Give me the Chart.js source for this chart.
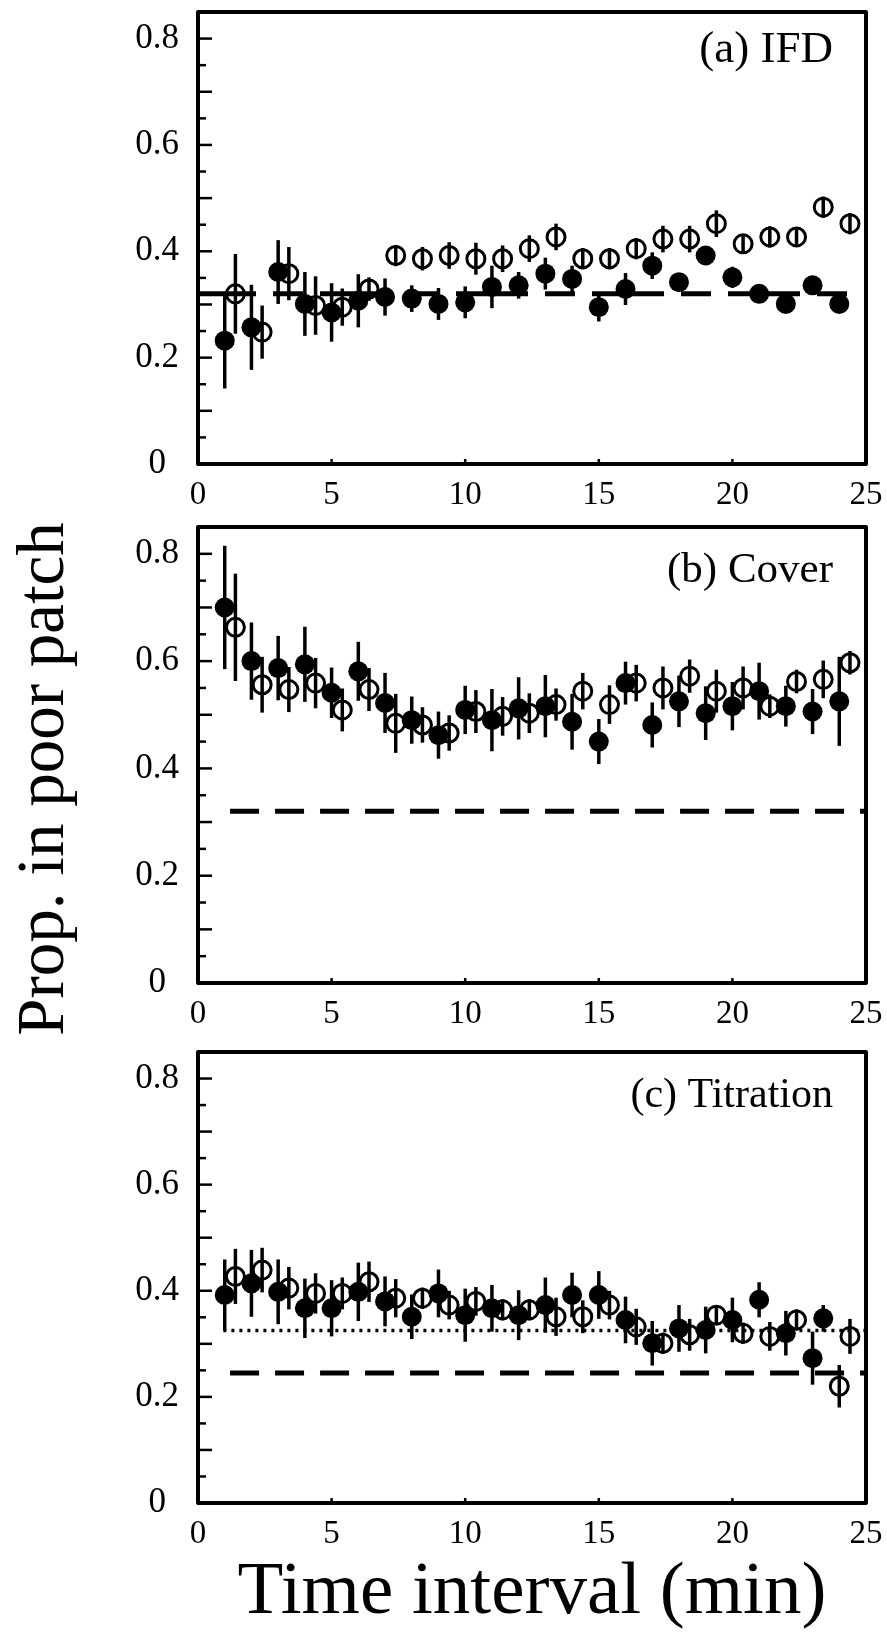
<!DOCTYPE html>
<html>
<head>
<meta charset="utf-8">
<script src="https://cdn.jsdelivr.net/npm/chart.js@4.4.1/dist/chart.umd.min.js"></script>
<style>
  html, body { margin: 0; padding: 0; background: #fff; }
  body { width: 887px; height: 1632px; position: relative; overflow: hidden; }
  canvas { position: absolute; left: 0; }
</style>
</head>
<body>
<canvas id="panelA" width="887" height="505" style="top:0px"></canvas>
<canvas id="panelB" width="887" height="555" style="top:505px"></canvas>
<canvas id="panelC" width="887" height="592" style="top:1040px"></canvas>
<script>
const SERIF = "'Liberation Serif', 'Times New Roman', serif";

// time of each point (min); open symbols sit a little to the right
const filledTimes = [1, 2, 3, 4, 5, 6, 7, 8, 9, 10, 11, 12, 13, 14, 15, 16, 17, 18, 19, 20, 21, 22, 23, 24];
const openTimes = [1.4, 2.4, 3.4, 4.4, 5.4, 6.4, 7.4, 8.4, 9.4, 10.4, 11.4, 12.4, 13.4, 14.4, 15.4, 16.4, 17.4, 18.4, 19.4, 20.4, 21.4, 22.4, 23.4, 24.4];

// (a) IFD
const ifdFilled = [0.232, 0.257, 0.361, 0.301, 0.285, 0.307, 0.314, 0.311, 0.301, 0.304, 0.333, 0.336, 0.358, 0.348, 0.295, 0.329, 0.373, 0.342, 0.392, 0.351, 0.320, 0.301, 0.336, 0.301];
const ifdFilledErr = [0.090, 0.080, 0.060, 0.060, 0.055, 0.050, 0.035, 0.025, 0.030, 0.030, 0.040, 0.025, 0.030, 0.025, 0.027, 0.030, 0.025, 0.015, 0.015, 0.020, 0.015, 0.015, 0.015, 0.015];
const ifdOpen = [0.320, 0.248, 0.358, 0.298, 0.295, 0.329, 0.392, 0.386, 0.392, 0.386, 0.386, 0.405, 0.427, 0.386, 0.386, 0.405, 0.423, 0.423, 0.452, 0.414, 0.427, 0.427, 0.483, 0.452];
const ifdOpenErr = [0.075, 0.050, 0.050, 0.055, 0.035, 0.022, 0.020, 0.022, 0.025, 0.030, 0.025, 0.025, 0.025, 0.020, 0.020, 0.020, 0.025, 0.025, 0.025, 0.015, 0.020, 0.015, 0.020, 0.020];
const ifdExpected = 0.32;

// (b) Cover
const coverFilled = [0.700, 0.600, 0.587, 0.594, 0.541, 0.581, 0.522, 0.490, 0.462, 0.509, 0.490, 0.512, 0.516, 0.487, 0.450, 0.559, 0.481, 0.525, 0.503, 0.516, 0.544, 0.516, 0.506, 0.525];
const coverFilledErr = [0.115, 0.072, 0.060, 0.070, 0.047, 0.055, 0.056, 0.044, 0.044, 0.045, 0.058, 0.058, 0.058, 0.052, 0.042, 0.040, 0.042, 0.048, 0.050, 0.045, 0.053, 0.038, 0.042, 0.083];
const coverOpen = [0.663, 0.556, 0.547, 0.559, 0.509, 0.547, 0.484, 0.481, 0.466, 0.506, 0.497, 0.503, 0.519, 0.544, 0.519, 0.559, 0.550, 0.572, 0.544, 0.550, 0.516, 0.562, 0.566, 0.597];
const coverOpenErr = [0.100, 0.052, 0.042, 0.047, 0.040, 0.040, 0.055, 0.033, 0.033, 0.040, 0.036, 0.037, 0.030, 0.034, 0.036, 0.034, 0.040, 0.031, 0.040, 0.040, 0.022, 0.022, 0.035, 0.022];
const coverExpected = 0.32;

// (c) Titration
const titFilledTimes = [1, 2, 3, 4, 5, 6, 7, 8, 9, 10, 11, 12, 13, 14, 15, 16, 17, 18, 19, 20, 21, 22, 23, 23.4];
const titFilled = [0.392, 0.414, 0.398, 0.367, 0.367, 0.398, 0.380, 0.351, 0.395, 0.354, 0.367, 0.354, 0.373, 0.392, 0.392, 0.345, 0.301, 0.329, 0.326, 0.345, 0.383, 0.320, 0.273, 0.348];
const titFilledErr = [0.067, 0.063, 0.061, 0.056, 0.053, 0.055, 0.047, 0.042, 0.045, 0.050, 0.044, 0.047, 0.052, 0.042, 0.045, 0.044, 0.042, 0.044, 0.044, 0.042, 0.033, 0.042, 0.050, 0.025];
const titOpenTimes = [1.4, 2.4, 3.4, 4.4, 5.4, 6.4, 7.4, 8.4, 9.4, 10.4, 11.4, 12.4, 13.4, 14.4, 15.4, 16.4, 17.4, 18.4, 19.4, 20.4, 21.4, 22.4, 24, 24.4];
const titOpen = [0.427, 0.439, 0.405, 0.395, 0.395, 0.417, 0.386, 0.386, 0.373, 0.380, 0.364, 0.364, 0.351, 0.351, 0.373, 0.332, 0.301, 0.317, 0.354, 0.320, 0.314, 0.345, 0.220, 0.314];
const titOpenErr = [0.052, 0.042, 0.040, 0.038, 0.030, 0.038, 0.036, 0.020, 0.027, 0.027, 0.020, 0.020, 0.036, 0.031, 0.027, 0.034, 0.020, 0.030, 0.017, 0.020, 0.027, 0.020, 0.040, 0.033];
const titExpected = 0.245;
const titDotted = 0.325;

const xMax = 25;
const yMax = 0.85;
const yLabelValues = [0, 0.2, 0.4, 0.6, 0.8];

function pts(xs, ys) {
  return xs.map((x, i) => ({ x: x, y: ys[i] }));
}

// vertical error bars, drawn with the chart's own scales
const errorBars = {
  id: 'errorBars',
  beforeDatasetsDraw(chart) {
    const { ctx, chartArea: a, scales: { x, y } } = chart;
    ctx.save();
    ctx.beginPath();
    ctx.rect(a.left, a.top, a.right - a.left, a.bottom - a.top);
    ctx.clip();
    ctx.strokeStyle = '#000';
    ctx.lineWidth = 3.5;
    chart.data.datasets.forEach(ds => {
      if (!ds.errors) return;
      ds.data.forEach((p, i) => {
        const px = x.getPixelForValue(p.x);
        ctx.beginPath();
        ctx.moveTo(px, y.getPixelForValue(p.y - ds.errors[i]));
        ctx.lineTo(px, y.getPixelForValue(p.y + ds.errors[i]));
        ctx.stroke();
      });
    });
    ctx.restore();
  }
};

// box round the plot and inward tick marks
const frame = {
  id: 'frame',
  afterDraw(chart) {
    const { ctx, chartArea: a, scales: { x, y } } = chart;
    ctx.save();
    ctx.strokeStyle = '#000';
    ctx.lineWidth = 2.5;
    y.ticks.forEach(t => {
      if (t.value <= 0 || t.value >= yMax) return;
      const py = y.getPixelForValue(t.value);
      const major = Math.abs(t.value * 10 - Math.round(t.value * 10)) < 1e-6;
      ctx.beginPath();
      ctx.moveTo(a.left, py);
      ctx.lineTo(a.left + (major ? 14 : 8), py);
      ctx.stroke();
    });
    x.ticks.forEach(t => {
      if (t.value <= 0 || t.value >= xMax) return;
      const px = x.getPixelForValue(t.value);
      ctx.beginPath();
      ctx.moveTo(px, a.bottom);
      ctx.lineTo(px, a.bottom - 5);
      ctx.stroke();
    });
    ctx.lineWidth = 4;
    ctx.lineJoin = 'round';
    ctx.strokeRect(a.left, a.top, a.right - a.left, a.bottom - a.top);
    ctx.restore();
  }
};

function panelLabel(text, dy, size) {
  return {
    id: 'panelLabel',
    afterDraw(chart) {
      const { ctx, chartArea: a } = chart;
      ctx.save();
      ctx.font = size + 'px ' + SERIF;
      ctx.fillStyle = '#000';
      ctx.textAlign = 'right';
      ctx.textBaseline = 'middle';
      ctx.fillText(text, a.right - 33, a.top + dy);
      ctx.restore();
    }
  };
}

const yTitle = {
  id: 'yTitle',
  afterDraw(chart) {
    const ctx = chart.ctx;
    ctx.save();
    ctx.translate(45, 779 - 505);
    ctx.rotate(-Math.PI / 2);
    ctx.font = '67px ' + SERIF;
    ctx.fillStyle = '#000';
    ctx.textAlign = 'center';
    ctx.textBaseline = 'middle';
    ctx.fillText('Prop. in poor patch', 0, 0);
    ctx.restore();
  }
};

function refLine(from, value, width, dash, offset) {
  return {
    type: 'line',
    data: [{ x: from, y: value }, { x: xMax, y: value }],
    borderColor: '#000',
    borderWidth: width,
    borderDash: dash,
    borderDashOffset: offset || 0,
    borderCapStyle: 'butt',
    pointRadius: 0,
    fill: false,
    order: 3
  };
}

function panel(id, cfg) {
  const canvas = document.getElementById(id);
  const H = canvas.height;
  const datasets = cfg.lines.slice();
  datasets.push({
    data: pts(cfg.openX, cfg.openY),
    errors: cfg.openErr,
    pointRadius: 9,
    pointBorderWidth: 3,
    pointBackgroundColor: 'rgba(0,0,0,0)',
    pointBorderColor: '#000',
    order: 2
  });
  datasets.push({
    data: pts(cfg.filledX, cfg.filledY),
    errors: cfg.filledErr,
    pointRadius: 10,
    pointBorderWidth: 0,
    pointBackgroundColor: '#000',
    pointBorderColor: '#000',
    order: 1
  });

  return new Chart(canvas, {
    type: 'scatter',
    data: { datasets: datasets },
    options: {
      responsive: false,
      animation: false,
      events: [],
      layout: { padding: { left: 0, right: 21, top: cfg.top, bottom: 0 } },
      plugins: { legend: { display: false }, tooltip: { enabled: false } },
      scales: {
        x: {
          type: 'linear',
          min: 0,
          max: xMax,
          grid: { display: false, drawTicks: false },
          border: { display: false },
          ticks: {
            stepSize: 5,
            maxRotation: 0,
            padding: 12,
            color: '#000',
            font: { family: SERIF, size: 33 }
          },
          title: cfg.xTitle ? {
            display: true,
            text: cfg.xTitle,
            color: '#000',
            font: { family: SERIF, size: 75, lineHeight: 1 },
            padding: { top: 0, bottom: 1 }
          } : { display: false },
          afterFit(s) {
            s.height = H - cfg.top - cfg.plotH;
            s.paddingLeft = 0;
            s.paddingRight = 0;
          }
        },
        y: {
          min: 0,
          max: yMax,
          grid: { display: false, drawTicks: false },
          border: { display: false },
          ticks: {
            stepSize: 0.05,
            autoSkip: false,
            crossAlign: 'center',
            padding: 19,
            color: '#000',
            font: { family: SERIF, size: 35 },
            callback(v) {
              const hit = yLabelValues.find(l => Math.abs(l - v) < 1e-6);
              if (hit === undefined) return '';
              return hit === 0 ? '0' : hit.toFixed(1);
            }
          },
          afterFit(s) {
            s.width = 198;
            s.paddingTop = 0;
            s.paddingBottom = 0;
          }
        }
      }
    },
    plugins: [errorBars, frame, panelLabel(cfg.label, cfg.labelDy, cfg.labelSize)].concat(cfg.extra || [])
  });
}

panel('panelA', {
  top: 12, plotH: 452,
  filledX: filledTimes, filledY: ifdFilled, filledErr: ifdFilledErr,
  openX: openTimes, openY: ifdOpen, openErr: ifdOpenErr,
  lines: [refLine(0, ifdExpected, 5, [72, 17, 30, 17], 14)],
  label: '(a) IFD', labelDy: 38, labelSize: 45
});

panel('panelB', {
  top: 22, plotH: 456,
  filledX: filledTimes, filledY: coverFilled, filledErr: coverFilledErr,
  openX: openTimes, openY: coverOpen, openErr: coverOpenErr,
  lines: [refLine(1.2, coverExpected, 5, [29, 16])],
  label: '(b) Cover', labelDy: 44, labelSize: 43,
  extra: [yTitle]
});

panel('panelC', {
  top: 10, plotH: 453,
  filledX: titFilledTimes, filledY: titFilled, filledErr: titFilledErr,
  openX: titOpenTimes, openY: titOpen, openErr: titOpenErr,
  lines: [refLine(1.2, titExpected, 5, [29, 16]), refLine(0.95, titDotted, 3.5, [3, 5])],
  label: '(c) Titration', labelDy: 44, labelSize: 42,
  xTitle: 'Time interval (min)'
});
</script>
</body>
</html>
